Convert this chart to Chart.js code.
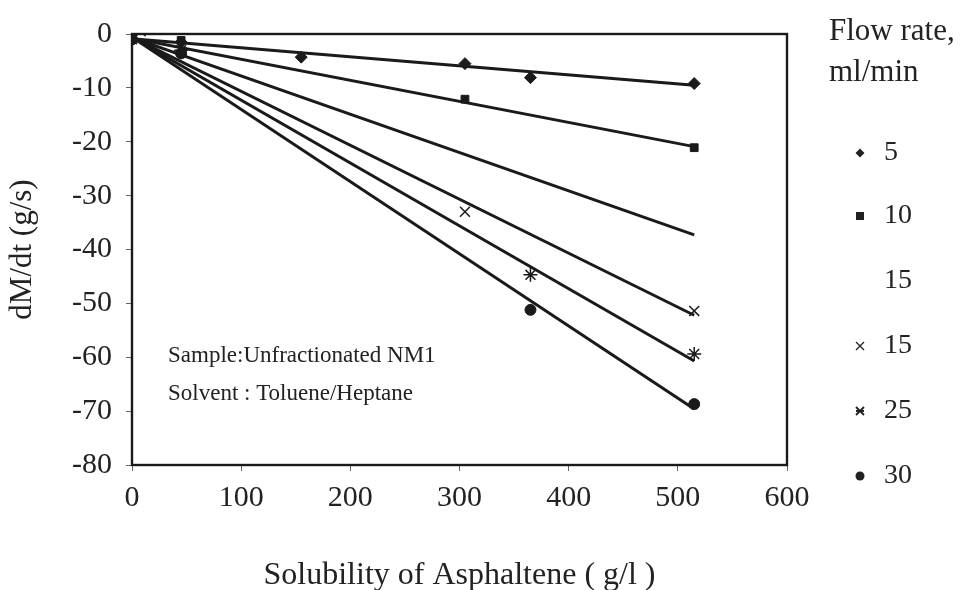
<!DOCTYPE html>
<html>
<head>
<meta charset="utf-8">
<script src="https://cdn.jsdelivr.net/npm/chart.js@4"></script>
<style>
html,body{margin:0;padding:0;background:#fff;}
#wrap{width:965px;height:590px;}
</style>
</head>
<body>
<div id="wrap"><canvas id="rateChart" width="965" height="590"></canvas></div>
<script>

/* DATA */

const flowRates=["5","10","15","15","25","30"];

// measured points, solubility (g/l) vs dM/dt (g/s)
const rate5X=[0,45,155,305,365,515];
const rate5Y=[-1,-1.5,-4.3,-5.5,-8.1,-9.2];

const rate10X=[0,45,305,515];
const rate10Y=[-1,-1.2,-12.1,-21.1];

const rate15aX=[];
const rate15aY=[];

const rate15bX=[8,45,305,515];
const rate15bY=[0.5,-2.5,-33,-51.4];

const rate25X=[0,45,365,515];
const rate25Y=[-1,-3,-44.7,-59.4];

const rate30X=[0,45,365,515];
const rate30Y=[-1,-3.6,-51.2,-68.7];

// linear trend lines, start and end
const fitX=[0,515];
const fit5=[-0.9,-9.5];
const fit10=[-0.8,-20.9];
const fit15a=[-0.7,-37.3];
const fit15b=[-0.6,-52.2];
const fit25=[-0.6,-60.7];
const fit30=[-0.6,-69.6];

const xTicks=[0,100,200,300,400,500,600];
const yTicks=[0,-10,-20,-30,-40,-50,-60,-70,-80];

const noteLines=["Sample:Unfractionated NM1","Solvent : Toluene/Heptane"];


/* BUILD DATASETS */

const ink="#1a1a1a";
const serif="'Liberation Serif','Times New Roman',serif";

const pts=(xs,ys)=>xs.map((x,i)=>({x:x,y:ys[i]}));

const markers=[
{x:rate5X,y:rate5Y,style:"rectRot",r:6,w:1},
{x:rate10X,y:rate10Y,style:"rect",r:5.5,w:1},
{x:rate15aX,y:rate15aY,style:false,r:0,w:1},
{x:rate15bX,y:rate15bY,style:"crossRot",r:7,w:1.5},
{x:rate25X,y:rate25Y,style:"star",r:7,w:1.5},
{x:rate30X,y:rate30Y,style:"circle",r:5.5,w:1}
];

const fits=[fit5,fit10,fit15a,fit15b,fit25,fit30];

const datasets=[];

fits.forEach((f,i)=>{
datasets.push({
label:"fit "+flowRates[i],
data:pts(fitX,f),
showLine:true,
borderColor:ink,
borderWidth:3,
pointRadius:0,
order:2
});
});

markers.forEach((m,i)=>{
datasets.push({
label:flowRates[i],
data:pts(m.x,m.y),
showLine:false,
pointStyle:m.style,
pointRadius:m.r,
borderWidth:m.w,
borderColor:ink,
backgroundColor:ink,
order:1
});
});


/* PLUGINS */

// plot box on all four sides
const frame={
id:"frame",
afterDatasetsDraw(chart){
const a=chart.chartArea,c=chart.ctx;
c.save();
c.strokeStyle=ink;
c.lineWidth=2.4;
c.strokeRect(a.left,a.top,a.right-a.left,a.bottom-a.top);
c.restore();
}
};

// sample note inside the plot
const note={
id:"note",
afterDraw(chart){
const a=chart.chartArea,c=chart.ctx;
c.save();
c.fillStyle="#222";
c.font="23px "+serif;
c.textBaseline="middle";
c.fillText(noteLines[0],a.left+36,356);
c.fillText(noteLines[1],a.left+36,394);
c.restore();
}
};

// legend on the right
const sideLegend={
id:"sideLegend",
afterDraw(chart){
const c=chart.ctx;
c.save();
c.fillStyle="#222";
c.strokeStyle="#222";
c.textBaseline="middle";
c.font="31px "+serif;
c.fillText("Flow rate,",829,32);
c.fillText("ml/min",829,73);
c.font="28px "+serif;
const rows=[153,216,281,346,411,476];
const mx=860;
markers.forEach((m,i)=>{
const y=rows[i];
c.fillText(flowRates[i],884,y);
c.lineWidth=1.3;
c.beginPath();
if(m.style==="rectRot"){
c.moveTo(mx,y-4.5);c.lineTo(mx+4.5,y);c.lineTo(mx,y+4.5);c.lineTo(mx-4.5,y);c.closePath();c.fill();
}else if(m.style==="rect"){
c.fillRect(mx-4,y-4,8,8);
}else if(m.style==="crossRot"){
c.moveTo(mx-4,y-4);c.lineTo(mx+4,y+4);c.moveTo(mx+4,y-4);c.lineTo(mx-4,y+4);c.stroke();
}else if(m.style==="star"){
c.lineWidth=1.8;
c.moveTo(mx-4,y-4);c.lineTo(mx+4,y+4);c.moveTo(mx+4,y-4);c.lineTo(mx-4,y+4);
c.moveTo(mx-4,y);c.lineTo(mx+4,y);c.stroke();
}else if(m.style==="circle"){
c.arc(mx,y,4.5,0,Math.PI*2);c.fill();
}
});
c.restore();
}
};


/* CHART */

new Chart(document.getElementById("rateChart"),{

type:"scatter",

data:{datasets:datasets},

options:{
responsive:false,
animation:false,
layout:{padding:{top:34,right:178,left:0,bottom:0}},
plugins:{legend:{display:false},tooltip:{enabled:false}},
scales:{
x:{
type:"linear",
min:xTicks[0],
max:xTicks[xTicks.length-1],
afterBuildTicks(s){s.ticks=xTicks.map(v=>({value:v}));},
afterFit(s){s.height=125;},
border:{display:true,color:ink,width:2},
grid:{drawOnChartArea:false,drawTicks:true,tickLength:6,color:"#666"},
ticks:{color:"#222",font:{family:serif,size:30},padding:9},
title:{display:true,text:"Solubility of Asphaltene ( g/l )",color:"#222",font:{family:serif,size:32},padding:{top:0,bottom:-5}}
},
y:{
type:"linear",
min:yTicks[yTicks.length-1],
max:yTicks[0],
afterBuildTicks(s){s.ticks=yTicks.map(v=>({value:v}));},
afterFit(s){s.width=132;},
border:{display:true,color:ink,width:2},
grid:{drawOnChartArea:false,drawTicks:true,tickLength:6,color:"#666"},
ticks:{color:"#222",font:{family:serif,size:30},padding:14},
title:{display:true,text:"dM/dt (g/s)",color:"#222",font:{family:serif,size:31},padding:{top:4,bottom:0}}
}
}
},

plugins:[frame,note,sideLegend]

});

</script>
</body>
</html>
